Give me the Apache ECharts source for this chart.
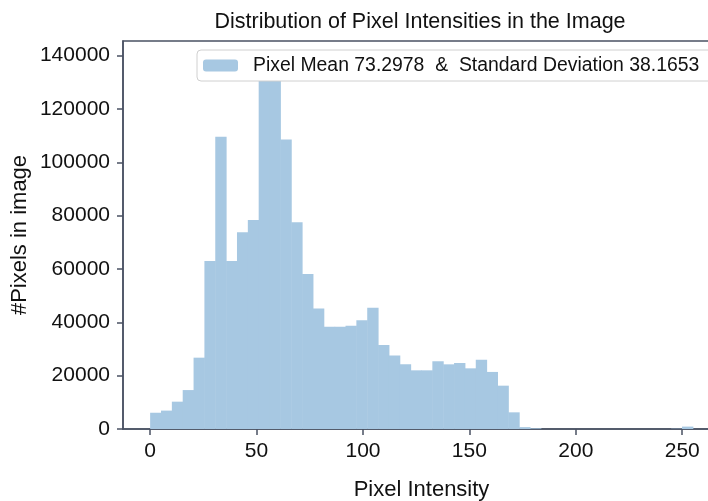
<!DOCTYPE html>
<html>
<head>
<meta charset="utf-8">
<script src="https://cdn.jsdelivr.net/npm/echarts@6/dist/echarts.min.js"></script>
<style>
  html, body { margin: 0; padding: 0; background: #fff; }
  #histPixels { width: 708px; height: 501px; }
</style>
</head>
<body>
<div id="histPixels"></div>
<script>
// histogram bins: 50 bins over 0..255
var binWidth = 255 / 50;
var binCounts = [
    6100, 6900, 10250, 14600, 26750, 63000, 109600, 63000, 73750, 78400,
    134000, 138500, 108600, 77500, 58100, 45200, 38300, 38300, 38700, 40800,
    45500, 31500, 27600, 24250, 22000, 22000, 25400, 24250, 24750, 22750,
    26000, 21400, 16250, 6250, 700, 250, 0, 0, 0, 0,
    0, 0, 0, 0, 0, 0, 0, 0, 100, 900
];
var xTicks = [0, 50, 100, 150, 200, 250];
var yTicks = [0, 20000, 40000, 60000, 80000, 100000, 120000, 140000];
var legendName = 'Pixel Mean 73.2978  &  Standard Deviation 38.1653';

var axisColor = '#4a5163';
var fontName = 'Liberation Sans';

// each bar: [start, end, count]
var barData = [];
for (var i = 0; i < binCounts.length; i++) {
    barData.push([i * binWidth, (i + 1) * binWidth, binCounts[i]]);
}

var option = {
    backgroundColor: '#fff',
    animation: false,
    title: {
        text: 'Distribution of Pixel Intensities in the Image',
        left: 415,
        textAlign: 'center',
        top: 6,
        textStyle: { fontFamily: fontName, fontSize: 21.5, fontWeight: 'normal', color: '#111' }
    },
    legend: {
        left: 197,
        top: 50,
        data: [legendName],
        itemWidth: 35,
        itemHeight: 12,
        padding: [6, 20, 6, 6],
        backgroundColor: '#fff',
        borderColor: '#d0d0d0',
        borderWidth: 1,
        borderRadius: 4,
        textStyle: { fontFamily: fontName, fontSize: 19.4, color: '#111', padding: [0, 0, 0, 10] }
    },
    grid: {
        left: 123,
        top: 41,
        width: 597,
        height: 388,
        outerBoundsMode: 'none',
        show: true,
        borderColor: axisColor,
        borderWidth: 1.5
    },
    xAxis: {
        type: 'value',
        min: -12.75,
        max: 267.75,
        name: 'Pixel Intensity',
        nameLocation: 'middle',
        nameGap: 50,
        nameTextStyle: { fontFamily: fontName, fontSize: 22, color: '#111' },
        axisLine: { show: true, onZero: false, lineStyle: { color: axisColor, width: 1.5 } },
        axisTick: { show: true, length: 6, customValues: xTicks, lineStyle: { color: axisColor, width: 1.5 } },
        axisLabel: { customValues: xTicks, margin: 12, fontFamily: fontName, fontSize: 21, color: '#111' },
        splitLine: { show: false }
    },
    yAxis: {
        type: 'value',
        min: 0,
        max: 145500,
        name: '#Pixels in image',
        nameLocation: 'middle',
        nameGap: 92,
        nameMoveOverlap: false,
        nameTextStyle: { fontFamily: fontName, fontSize: 22, color: '#111' },
        axisLine: { show: true, onZero: false, lineStyle: { color: axisColor, width: 1.5 } },
        axisTick: { show: true, length: 6, customValues: yTicks, lineStyle: { color: axisColor, width: 1.5 } },
        axisLabel: {
            customValues: yTicks, margin: 13, fontFamily: fontName, fontSize: 21, color: '#111',
            formatter: function (v) { return String(v); }
        },
        splitLine: { show: false }
    },
    series: [{
        name: legendName,
        type: 'custom',
        itemStyle: { color: '#a7c8e2' },
        encode: { x: [0, 1], y: 2 },
        data: barData,
        renderItem: function (params, api) {
            var p0 = api.coord([api.value(0), 0]);
            var p1 = api.coord([api.value(1), api.value(2)]);
            return {
                type: 'rect',
                shape: { x: p0[0], y: p1[1], width: p1[0] - p0[0] + 0.5, height: p0[1] - p1[1] },
                style: { fill: '#a7c8e2' }
            };
        }
    }]
};

var chart = echarts.init(document.getElementById('histPixels'));
chart.setOption(option);
</script>
</body>
</html>
